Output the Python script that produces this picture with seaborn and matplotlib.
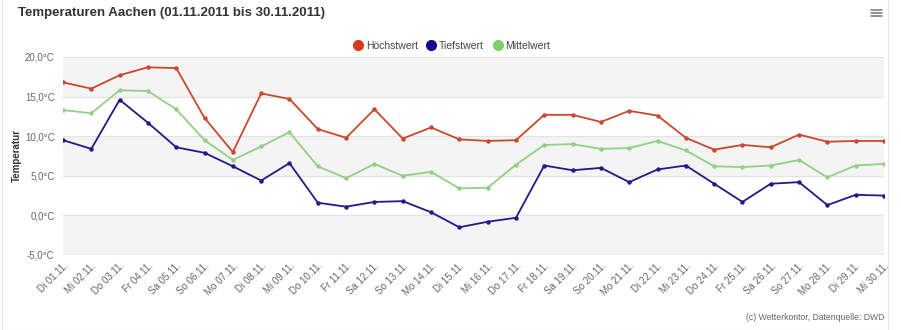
import matplotlib
matplotlib.use("Agg")
import matplotlib.pyplot as plt
from matplotlib.lines import Line2D
from matplotlib.patches import Rectangle
import seaborn as sns
import pandas as pd
import numpy as np

days = ["Di 01.11.", "Mi 02.11.", "Do 03.11.", "Fr 04.11.", "Sa 05.11.", "So 06.11.",
        "Mo 07.11.", "Di 08.11.", "Mi 09.11.", "Do 10.11.", "Fr 11.11.", "Sa 12.11.",
        "So 13.11.", "Mo 14.11.", "Di 15.11.", "Mi 16.11.", "Do 17.11.", "Fr 18.11.",
        "Sa 19.11.", "So 20.11.", "Mo 21.11.", "Di 22.11.", "Mi 23.11.", "Do 24.11.",
        "Fr 25.11.", "Sa 26.11.", "So 27.11.", "Mo 28.11.", "Di 29.11.", "Mi 30.11."]

hoechstwert = [16.8, 16.0, 17.7, 18.7, 18.6, 12.3, 8.0, 15.4, 14.7, 10.9,
               9.8, 13.4, 9.7, 11.1, 9.6, 9.4, 9.5, 12.7, 12.7, 11.8,
               13.2, 12.6, 9.8, 8.3, 8.9, 8.6, 10.2, 9.3, 9.4, 9.4]
tiefstwert = [9.5, 8.4, 14.6, 11.7, 8.6, 7.9, 6.2, 4.4, 6.6, 1.6,
              1.1, 1.7, 1.8, 0.4, -1.5, -0.8, -0.3, 6.3, 5.7, 6.0,
              4.2, 5.8, 6.3, 4.0, 1.7, 4.0, 4.2, 1.3, 2.6, 2.5]
mittelwert = [13.3, 12.9, 15.8, 15.7, 13.4, 9.5, 7.0, 8.7, 10.5, 6.2,
              4.7, 6.5, 5.0, 5.5, 3.4, 3.5, 6.4, 8.9, 9.0, 8.4,
              8.5, 9.4, 8.2, 6.2, 6.1, 6.3, 7.0, 4.8, 6.3, 6.5]

series_names = ["Höchstwert", "Tiefstwert", "Mittelwert"]
y_ticks = [-5, 0, 5, 10, 15, 20]

line_colors = {"Höchstwert": "#c9482e", "Tiefstwert": "#221a8a", "Mittelwert": "#92d083"}
dot_colors = {"Höchstwert": "#d63d17", "Tiefstwert": "#14088c", "Mittelwert": "#7fcf6b"}

df = pd.DataFrame({
    "Tag": np.tile(np.arange(len(days)), 3),
    "Wert": hoechstwert + tiefstwert + mittelwert,
    "Reihe": np.repeat(series_names, len(days)),
})

sns.set_style("white")
plt.rcParams["font.family"] = ["Liberation Sans", "DejaVu Sans"]

fig = plt.figure(figsize=(9.01, 3.30), dpi=100)
ax = fig.add_axes([63 / 901, 1 - 255 / 330, (884 - 63) / 901, (255 - 57) / 330])

# alternating horizontal bands
for i, (lo, hi) in enumerate(zip(y_ticks[:-1], y_ticks[1:])):
    if i % 2 == 0:
        ax.axhspan(lo, hi, color="#f4f4f4", zorder=0, lw=0)
for t in y_ticks:
    ax.axhline(t, color="#e3e3e3", lw=0.9, zorder=1)
ax.axhline(-5, color="#d4d4d4", lw=1.0, zorder=1)

sns.lineplot(data=df, x="Tag", y="Wert", hue="Reihe", hue_order=series_names,
             palette=line_colors, marker="o", markersize=3.2, markeredgewidth=0,
             linewidth=1.3, legend=False, ax=ax, zorder=3)

ax.set_xlim(0, len(days) - 1)
ax.set_ylim(-5, 20)
ax.set_yticks(y_ticks)
ax.set_yticklabels([f"{t:.1f}°C".replace(".", ",") for t in y_ticks],
                   fontsize=7, color="#666666")
ax.set_xticks(range(len(days)))
ax.set_xticklabels(days, rotation=45, ha="right", rotation_mode="anchor",
                   fontsize=7, color="#666666")
ax.tick_params(axis="both", length=0, pad=6)
ax.tick_params(axis="x", pad=4)
for s in ax.spines.values():
    s.set_visible(False)
ax.set_xlabel("")
ax.set_ylabel("")

# y axis title
fig.text(17 / 901, 1 - 156 / 330, "Temperatur", rotation=90, fontsize=7,
         fontweight="bold", color="#333333", ha="center", va="center")

# legend
handles = [Line2D([], [], marker="o", ls="", markersize=8, color=dot_colors[n],
                  markeredgewidth=0) for n in series_names]
fig.legend(handles, series_names, loc="center", bbox_to_anchor=(452 / 901, 1 - 46 / 330),
           ncol=3, frameon=False, fontsize=7.5, labelcolor="#444444",
           handletextpad=0.35, columnspacing=0.9, handlelength=0.8)

fig.text(18 / 901, 1 - 13 / 330, "Temperaturen Aachen (01.11.2011 bis 30.11.2011)",
         fontsize=9.5, fontweight="bold", color="#333333", va="center", ha="left")
fig.text(884 / 901, 1 - 318 / 330, "(c) Wetterkontor, Datenquelle: DWD",
         fontsize=6.2, color="#666666", va="center", ha="right")

# menu icon
for yy in (9.5, 12.5, 15.5):
    fig.add_artist(Line2D([871 / 901, 882 / 901], [1 - yy / 330] * 2,
                          color="#777777", lw=1.1))

# card border
fig.add_artist(Rectangle((2 / 901, 0), (888 - 2) / 901, 1.2, transform=fig.transFigure,
                         fill=False, edgecolor="#e6e6e6", lw=0.8))

fig.savefig("out.png", dpi=100, facecolor="white")
